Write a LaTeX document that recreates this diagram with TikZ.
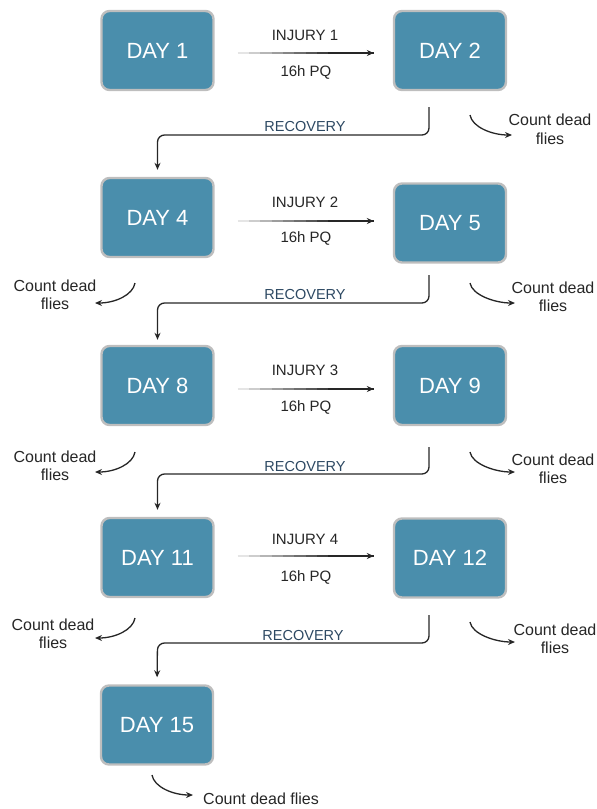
\documentclass[tikz,border=0pt]{standalone}
\usepackage{fontspec}
\setmainfont{Liberation Sans}
\usetikzlibrary{arrows.meta,calc}
\definecolor{boxblue}{RGB}{74,142,172}
\definecolor{boxedge}{RGB}{190,190,190}
\definecolor{ink}{RGB}{38,38,38}
\definecolor{recov}{RGB}{44,72,98}
\begin{document}
\begin{tikzpicture}[x=1pt,y=-1pt,
  day/.style={draw=boxedge, line width=2.4pt, fill=boxblue, rounded corners=8pt,
    minimum width=112pt, minimum height=79pt, text=white,
    font=\fontsize{22}{26}\selectfont, inner sep=0pt},
  lbl/.style={text=ink, font=\fontsize{15}{18}\selectfont, inner sep=0pt},
  rlbl/.style={text=recov, font=\fontsize{14.5}{17}\selectfont, inner sep=0pt},
  cdl/.style={text=ink, font=\fontsize{16}{18.5}\selectfont, align=center, inner sep=0pt},
  injseg/.style={line width=1.2pt},
  injtip/.style={draw=ink, line width=1.2pt, -{Stealth[length=7pt,width=6pt]}},
  recarrow/.style={draw=ink, line width=1.3pt, rounded corners=7pt,
    -{Stealth[length=7pt,width=6pt]}},
  cnt/.style={draw=ink, line width=1.3pt, -{Stealth[length=7pt,width=6pt]}}
]
\useasboundingbox (0,0) rectangle (597,809);

% boxes
\node[day] (d1) at (157.5,50.5) {DAY 1};
\node[day] (d2) at (450,50.5) {DAY 2};
\node[day] (d4) at (157.5,217.5) {DAY 4};
\node[day] (d5) at (450,223) {DAY 5};
\node[day] (d8) at (157.5,385.5) {DAY 8};
\node[day] (d9) at (450,385.5) {DAY 9};
\node[day] (d11) at (157.5,557.5) {DAY 11};
\node[day] (d12) at (450,558) {DAY 12};
\node[day] (d15) at (157,725) {DAY 15};

% injury arrows (fading in from the left)
\coordinate (a1) at (0,53);
\coordinate (a2) at (0,221);
\coordinate (a3) at (0,389);
\coordinate (a4) at (0,556);
\foreach \pa/\pb/\py in {d1/d2/a1, d4/d5/a2, d8/d9/a3, d11/d12/a4} {
  \coordinate (ia) at ([xshift=23pt]\pa.east |- \py);
  \coordinate (ib) at ([xshift=-19pt]\pb.west |- \py);
  \foreach \k in {0,...,11} {
    \pgfmathtruncatemacro\pc{min(100,12+11*\k)}
    \draw[injseg, draw=ink!\pc] ($(ia)!\k/12!(ib)$) -- ($(ia)!{(\k+1)/12}!(ib)$);
  }
  \draw[injtip] ($(ia)!0.9!(ib)$) -- (ib);
}
\node[lbl] (i1) at (305,35) {INJURY 1};
\node[lbl] (p1) at (306,72) {16h PQ};
\node[lbl] (i2) at (305,202) {INJURY 2};
\node[lbl] (p2) at (306,238) {16h PQ};
\node[lbl] (i3) at (305,370) {INJURY 3};
\node[lbl] (p3) at (306,407) {16h PQ};
\node[lbl] (i4) at (305,539) {INJURY 4};
\node[lbl] (p4) at (306,577) {16h PQ};

% recovery connectors
\coordinate (rs1) at (429,107);
\coordinate (rh1) at (157.5,135);
\coordinate (rs2) at (429,275);
\coordinate (rh2) at (157.5,303);
\coordinate (rs3) at (429,447);
\coordinate (rh3) at (157.5,474);
\coordinate (rs4) at (429,615);
\coordinate (rh4) at (157.5,643);
\draw[recarrow, shorten >=7pt] (rs1) |- (rh1) -- (d4.north);
\draw[recarrow, shorten >=5pt] (rs2) |- (rh2) -- (d8.north);
\draw[recarrow, shorten >=7pt] (rs3) |- (rh3) -- (d11.north);
\draw[recarrow, shorten >=7pt] (rs4) |- (rh4) -- (d15.north);
\node[rlbl] (r1) at (305,127) {RECOVERY};
\node[rlbl] (r2) at (305,295) {RECOVERY};
\node[rlbl] (r3) at (305,467) {RECOVERY};
\node[rlbl] (r4) at (303,635) {RECOVERY};

% count dead flies
\node[cdl] (c2) at (550,129.5) {Count dead\\flies};
\node[cdl] (c4) at (55,295) {Count dead\\flies};
\node[cdl] (c5) at (553,297) {Count dead\\flies};
\node[cdl] (c8) at (55,466) {Count dead\\flies};
\node[cdl] (c9) at (553,469) {Count dead\\flies};
\node[cdl] (c11) at (53,634) {Count dead\\flies};
\node[cdl] (c12) at (555,639) {Count dead\\flies};
\node[cdl, anchor=west] (c15) at (203,799) {Count dead flies};

\coordinate (s2) at (470,115);   \coordinate (e2) at (512,135);
\coordinate (s4) at (135,283);   \coordinate (e4) at (95,303);
\coordinate (s5) at (470,283);   \coordinate (e5) at (515,303);
\coordinate (s8) at (135,452);   \coordinate (e8) at (95,472);
\coordinate (s9) at (470,452);   \coordinate (e9) at (515,472);
\coordinate (s11) at (135,618);  \coordinate (e11) at (95,638);
\coordinate (s12) at (470,622);  \coordinate (e12) at (515,642);
\coordinate (s15) at (152,775);  \coordinate (e15) at (193,795);
\draw[cnt] (s2) .. controls +(2,12) and +(-20,0) .. (e2);
\draw[cnt] (s4) .. controls +(-2,12) and +(20,0) .. (e4);
\draw[cnt] (s5) .. controls +(2,12) and +(-20,0) .. (e5);
\draw[cnt] (s8) .. controls +(-2,12) and +(20,0) .. (e8);
\draw[cnt] (s9) .. controls +(2,12) and +(-20,0) .. (e9);
\draw[cnt] (s11) .. controls +(-2,12) and +(20,0) .. (e11);
\draw[cnt] (s12) .. controls +(2,12) and +(-20,0) .. (e12);
\draw[cnt] (s15) .. controls +(2,12) and +(-20,0) .. (e15);
\end{tikzpicture}
\end{document}
